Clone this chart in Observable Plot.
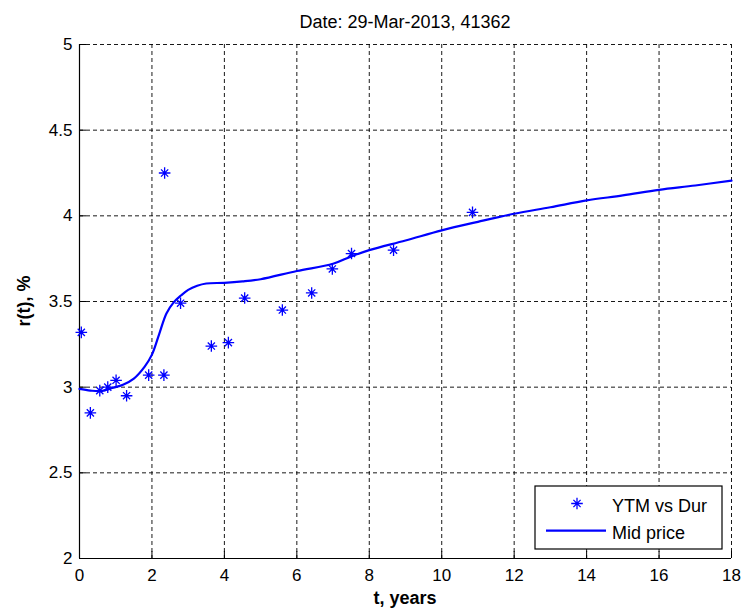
<!DOCTYPE html>
<html><head><meta charset="utf-8">
<script src="https://cdn.jsdelivr.net/npm/d3@7"></script>
<script src="https://cdn.jsdelivr.net/npm/@observablehq/plot@0.6"></script>
<style>
body{margin:0;background:#fff;}
svg{font-family: Arial, "Liberation Sans", sans-serif;}
</style>
</head><body><div id="chart"></div>
<script>
const title = "Date: 29-Mar-2013, 41362";
const xLabel = "t, years";
const yLabel = "r(t), %";
const seriesNames = ["YTM vs Dur", "Mid price"];
const xTicks = [0, 2, 4, 6, 8, 10, 12, 14, 16, 18];
const yTicks = [2, 2.5, 3, 3.5, 4, 4.5, 5];

// scatter: duration (years) vs yield to maturity (%)
const ytmDur  = [0.05, 0.30, 0.56, 0.78, 1.01, 1.30, 1.91, 2.33, 2.35, 2.79, 3.64, 4.11, 4.56, 5.60, 6.41, 6.98, 7.51, 8.67, 10.85];
const ytmRate = [3.32, 2.85, 2.98, 3.00, 3.04, 2.95, 3.07, 3.07, 4.25, 3.49, 3.24, 3.26, 3.52, 3.45, 3.55, 3.69, 3.78, 3.80, 4.02];

// fitted curve (mid price)
const curveT = [0, 0.3, 0.6, 0.9, 1.2, 1.5, 1.8, 2.0, 2.2, 2.4, 2.6, 2.8, 3.0, 3.25, 3.5, 4.0, 4.5, 5, 6, 7, 7.5, 8, 9, 10, 11, 12, 13, 14, 15, 16, 17, 18];
const curveR = [2.99, 2.98, 2.977, 2.995, 3.014, 3.05, 3.12, 3.19, 3.31, 3.43, 3.495, 3.535, 3.568, 3.592, 3.605, 3.609, 3.617, 3.63, 3.678, 3.72, 3.763, 3.80, 3.856, 3.915, 3.965, 4.012, 4.05, 4.09, 4.119, 4.152, 4.177, 4.206];

const scatter = ytmDur.map((d, i) => ({t: d, r: ytmRate[i]}));
const curve = curveT.map((d, i) => ({t: d, r: curveR[i]}));

const asterisk8 = {
  draw(ctx, size) {
    const r = Math.sqrt(size / Math.PI);
    const d = r * 0.62;
    ctx.moveTo(-r, 0); ctx.lineTo(r, 0);
    ctx.moveTo(0, -r); ctx.lineTo(0, r);
    ctx.moveTo(-d, -d); ctx.lineTo(d, d);
    ctx.moveTo(-d, d); ctx.lineTo(d, -d);
  }
};

const W = 744, H = 613;
const mL = 79, mR = 13, mT = 44, mB = 55;
const fw = W - mL - mR, fh = H - mT - mB;
const blue = "#0000ff";
const fmt = d => String(d);

const plot = Plot.plot({
  width: W, height: H,
  marginLeft: mL, marginRight: mR, marginTop: mT, marginBottom: mB,
  style: {fontFamily: "Arial, 'Liberation Sans', sans-serif", fontSize: "17px", color: "#000", background: "#fff"},
  x: {domain: [0, 18], ticks: xTicks},
  y: {domain: [2, 5], ticks: yTicks},
  marks: [
    Plot.gridX(xTicks, {stroke: "#000", strokeOpacity: 0.9, strokeDasharray: "4,3", strokeWidth: 1}),
    Plot.gridY(yTicks, {stroke: "#000", strokeOpacity: 0.9, strokeDasharray: "4,3", strokeWidth: 1}),
    Plot.tickX(xTicks, {x: d => d, insetTop: fh - 7, stroke: "#000"}),
    Plot.tickY(yTicks, {y: d => d, insetRight: fw - 7, stroke: "#000"}),
    Plot.ruleX([0], {stroke: "#000", strokeWidth: 1.2}),
    Plot.ruleY([2], {stroke: "#000", strokeWidth: 1.2}),
    Plot.axisX({ticks: xTicks, tickFormat: fmt, tickSize: 0, tickPadding: 10, label: null, fontSize: 17}),
    Plot.axisY({ticks: yTicks, tickFormat: fmt, tickSize: 0, tickPadding: 7, label: null, fontSize: 17}),
    Plot.line(curve, {x: "t", y: "r", stroke: blue, strokeWidth: 2.2, curve: "catmull-rom"}),
    Plot.dot(scatter, {x: "t", y: "r", symbol: asterisk8, r: 5.8, stroke: blue, fill: "none", strokeWidth: 1.3})
  ]
});

document.getElementById("chart").appendChild(plot);

const svg = d3.select(plot);
const cx = mL + fw / 2;
svg.append("text").attr("x", cx).attr("y", 28).attr("text-anchor", "middle")
  .style("font-size", "18px").attr("fill", "#000").text(title);
svg.append("text").attr("x", cx).attr("y", 604).attr("text-anchor", "middle")
  .style("font-size", "18px").style("font-weight", "bold").attr("fill", "#000").text(xLabel);
svg.append("text").attr("transform", `translate(30,${mT + fh / 2}) rotate(-90)`).attr("text-anchor", "middle")
  .style("font-size", "18px").style("font-weight", "bold").attr("fill", "#000").text(yLabel);

// legend
const lg = svg.append("g").attr("transform", `translate(${mL + fw - 196},${mT + fh - 72})`);
lg.append("rect").attr("x", 0).attr("y", 0).attr("width", 187).attr("height", 63)
  .attr("fill", "#fff").attr("stroke", "#000").attr("stroke-width", 1.2);
lg.append("path").attr("transform", "translate(42,17.5)")
  .attr("d", d3.symbol(asterisk8, Math.PI * 5.8 * 5.8)()).attr("stroke", blue).attr("fill", "none").attr("stroke-width", 1.3);
lg.append("line").attr("x1", 11).attr("x2", 71).attr("y1", 44.7).attr("y2", 44.7).attr("stroke", blue).attr("stroke-width", 2.2);
lg.append("text").attr("x", 77).attr("y", 25.5).attr("text-anchor", "start").style("font-size", "18px").attr("fill", "#000").text(seriesNames[0]);
lg.append("text").attr("x", 77).attr("y", 53).attr("text-anchor", "start").style("font-size", "18px").attr("fill", "#000").text(seriesNames[1]);
</script>
</body></html>
